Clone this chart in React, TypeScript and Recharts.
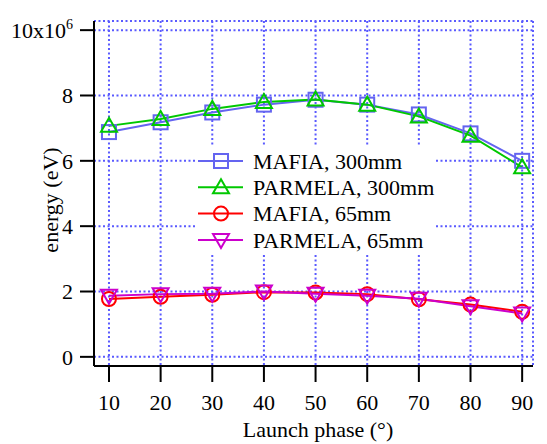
import React from "react";
import {
  LineChart,
  Line,
  XAxis,
  YAxis,
  CartesianGrid,
  Legend,
} from "recharts";

// launch phase in degrees
const phases = [10, 20, 30, 40, 50, 60, 70, 80, 90];

// energy in units of 1e6 eV
const mafia300 = [6.88, 7.18, 7.48, 7.72, 7.87, 7.72, 7.42, 6.84, 6.0];
const parmela300 = [7.07, 7.28, 7.59, 7.8, 7.88, 7.72, 7.36, 6.77, 5.8];
const mafia65 = [1.77, 1.84, 1.9, 1.98, 1.97, 1.92, 1.76, 1.6, 1.38];
const parmela65 = [1.87, 1.92, 1.93, 2.0, 1.93, 1.87, 1.78, 1.55, 1.33];

const yTicks = [0, 2, 4, 6, 8, 10];

type Shape = "square" | "triangle" | "circle" | "down";

const series: { key: string; name: string; color: string; shape: Shape; values: number[] }[] = [
  { key: "mafia300", name: "MAFIA, 300mm", color: "#6464f0", shape: "square", values: mafia300 },
  { key: "parmela300", name: "PARMELA, 300mm", color: "#00c800", shape: "triangle", values: parmela300 },
  { key: "mafia65", name: "MAFIA, 65mm", color: "#ff0000", shape: "circle", values: mafia65 },
  { key: "parmela65", name: "PARMELA, 65mm", color: "#cc00cc", shape: "down", values: parmela65 },
];

const data = phases.map((p, i) => {
  const row: Record<string, number> = { phase: p };
  series.forEach((s) => (row[s.key] = s.values[i]));
  return row;
});

const FONT = "Liberation Serif, DejaVu Serif, serif";
const textStyle = { fontFamily: FONT, fontSize: 22 };

function Marker({ cx, cy, shape, color }: { cx: number; cy: number; shape: Shape; color: string }) {
  const r = 7;
  const common = { fill: "none", stroke: color, strokeWidth: 2 };
  if (shape === "square") {
    return <rect x={cx - r} y={cy - r} width={2 * r} height={2 * r} {...common} />;
  }
  if (shape === "circle") {
    return <circle cx={cx} cy={cy} r={r} {...common} />;
  }
  if (shape === "triangle") {
    return (
      <polygon
        points={`${cx},${cy - r - 1} ${cx - r - 1},${cy + r - 1} ${cx + r + 1},${cy + r - 1}`}
        {...common}
      />
    );
  }
  return (
    <polygon
      points={`${cx},${cy + r + 1} ${cx - r - 1},${cy - r + 1} ${cx + r + 1},${cy - r + 1}`}
      {...common}
    />
  );
}

const YTick = (props: any) => {
  const { x, y, payload } = props;
  if (payload.value === 10) {
    return (
      <text x={x} y={y} dy="0.35em" textAnchor="end" style={textStyle} fill="#000">
        <tspan>10x10</tspan>
        <tspan dy={-9} style={{ fontSize: 14 }}>6</tspan>
      </text>
    );
  }
  return (
    <text x={x} y={y} dy="0.35em" textAnchor="end" style={textStyle} fill="#000">
      {payload.value}
    </text>
  );
};

const XTick = (props: any) => {
  const { x, y, payload } = props;
  return (
    <text x={x} y={y} dy="0.71em" textAnchor="middle" style={textStyle} fill="#000">
      {payload.value}
    </text>
  );
};

const renderLegend = () => (
  <svg width={238} height={106} style={{ display: "block", background: "#fff" }}>
    {series.map((s, i) => {
      const y = 14 + i * 26.3;
      return (
        <g key={s.key}>
          <line x1={1} x2={46} y1={y} y2={y} stroke={s.color} strokeWidth={2} />
          <Marker cx={24} cy={y} shape={s.shape} color={s.color} />
          <text x={56} y={y} dy="0.35em" style={textStyle} fill="#000">
            {s.name}
          </text>
        </g>
      );
    })}
  </svg>
);

export default function App() {
  return (
    <div style={{ position: "absolute", left: 0, top: 0, background: "#fff", fontFamily: FONT }}>
      <LineChart
        width={547}
        height={444}
        data={data}
        margin={{ top: 21, right: 14, bottom: 0, left: 0 }}
        style={{ fontFamily: FONT }}
      >
        <CartesianGrid
          xAxisId="bottom"
          yAxisId="left"
          stroke="#5a5aff"
          strokeWidth={2}
          strokeDasharray="2 2.5"
        />
        <XAxis
          xAxisId="bottom"
          dataKey="phase"
          type="number"
          domain={[7.1, 92.1]}
          allowDataOverflow
          ticks={phases}
          height={78}
          axisLine={{ stroke: "#000", strokeWidth: 2 }}
          tickLine={{ stroke: "#000", strokeWidth: 2 }}
          tickSize={16}
          tickMargin={12}
          tick={XTick}
          label={{
            content: () => (
              <text x={318} y={437} textAnchor="middle" style={textStyle} fill="#000">
                Launch phase (°)
              </text>
            ),
          }}
        />
        <XAxis
          xAxisId="top"
          orientation="top"
          dataKey="phase"
          type="number"
          domain={[7.1, 92.1]}
          allowDataOverflow
          ticks={phases}
          height={0}
          axisLine={{ stroke: "#000", strokeWidth: 2 }}
          tickLine={{ stroke: "#000", strokeWidth: 2 }}
          tickSize={15}
          tick={false}
        />
        <YAxis
          yAxisId="left"
          type="number"
          domain={[-0.28, 10.28]}
          allowDataOverflow
          ticks={yTicks}
          width={94}
          axisLine={{ stroke: "#000", strokeWidth: 2 }}
          tickLine={{ stroke: "#000", strokeWidth: 2 }}
          tickSize={14}
          tickMargin={7}
          tick={YTick}
          label={{
            content: () => (
              <text
                x={50}
                y={200}
                transform="rotate(-90 50 200)"
                textAnchor="middle"
                dominantBaseline="central"
                style={textStyle}
                fill="#000"
              >
                energy (eV)
              </text>
            ),
          }}
        />
        <YAxis
          yAxisId="right"
          orientation="right"
          type="number"
          domain={[-0.28, 10.28]}
          allowDataOverflow
          width={0}
          axisLine={{ stroke: "#000", strokeWidth: 2 }}
          tickLine={false}
          tick={false}
        />
        <Legend
          verticalAlign="middle"
          align="center"
          content={renderLegend}
          wrapperStyle={{ left: 197, top: 147, width: 238, height: 106 }}
        />
        {series.map((s) => (
          <Line
            key={s.key}
            xAxisId="bottom"
            yAxisId="left"
            dataKey={s.key}
            name={s.name}
            stroke={s.color}
            strokeWidth={2}
            isAnimationActive={false}
            dot={(p: any) => (
              <Marker key={`${s.key}-${p.index}`} cx={p.cx} cy={p.cy} shape={s.shape} color={s.color} />
            )}
            activeDot={false}
          />
        ))}
      </LineChart>
    </div>
  );
}
